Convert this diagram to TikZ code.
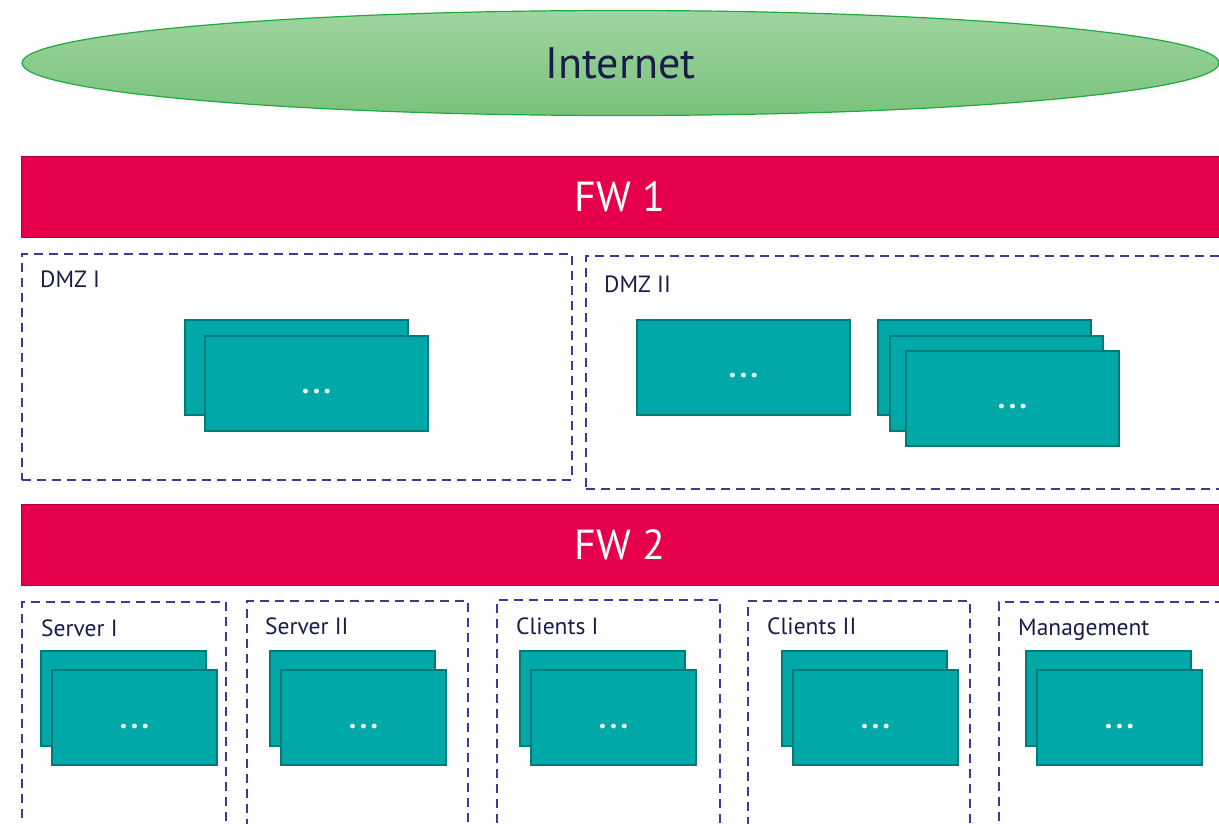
\documentclass[tikz,border=0pt]{standalone}
\usepackage{fontspec}
\setmainfont{PT Sans}
\usetikzlibrary{shapes.geometric}
\definecolor{tealfill}{RGB}{0,168,168}
\definecolor{tealline}{RGB}{0,122,120}
\definecolor{fwred}{RGB}{230,0,76}
\definecolor{fwline}{RGB}{170,0,60}
\definecolor{gtop}{RGB}{158,213,160}
\definecolor{gbot}{RGB}{122,194,124}
\definecolor{gline}{RGB}{30,170,60}
\definecolor{zoneblue}{RGB}{58,58,152}
\definecolor{ink}{RGB}{27,27,72}
\newcommand{\mydots}{.\kern3.5pt.\kern3.5pt.}
\begin{document}
\begin{tikzpicture}[x=1pt,y=-1pt,
  zone/.style={draw=zoneblue, line width=2.2pt, dash pattern=on 9pt off 6pt, anchor=north west, inner sep=0pt, outer sep=0pt},
  srv/.style={fill=tealfill, draw=tealline, line width=1.8pt, anchor=north west, inner sep=0pt, outer sep=0pt},
  fwbar/.style={fill=fwred, draw=fwline, line width=0.8pt, anchor=north west, inner sep=0pt, outer sep=0pt, minimum width=1198pt, minimum height=81pt, text=white, font=\fontsize{42}{50}\selectfont},
  lbl/.style={anchor=base west, text=ink, font=\fontsize{23.5}{28}\selectfont, inner sep=0pt},
  dotlbl/.style={text=white, font=\fontsize{30}{36}\selectfont\bfseries, inner sep=0pt},
  bigsrv/.style={srv, minimum width=223pt, minimum height=95pt},
  midsrv/.style={srv, minimum width=213pt, minimum height=95pt},
  smallsrv/.style={srv, minimum width=165pt, minimum height=95pt},
]
\useasboundingbox (0,0) rectangle (1219,824);
\clip (0,0) rectangle (1219,824);

% Internet
\node[ellipse, shading=axis, top color=gtop, bottom color=gbot, draw=gline, line width=1.2pt,
      minimum width=1197pt, minimum height=105pt, inner sep=0pt, text=ink,
      font=\fontsize{44}{52}\selectfont] (inet) at (620.5,63) {Internet};

% Firewalls
\node[fwbar] (fw1) at (21,156) {FW 1};
\node[fwbar] (fw2) at (21,504) {FW 2};

% DMZ zones
\node[zone, minimum width=550pt, minimum height=226pt] (dmz1) at (22,254) {};
\node[lbl] (dmz1l) at (40,287) {DMZ I};
\node[zone, minimum width=650pt, minimum height=233pt] (dmz2) at (586,256) {};
\node[lbl] (dmz2l) at (604,292) {DMZ II};

% DMZ I servers
\node[bigsrv] (d1a) at (185,320) {};
\node[bigsrv] (d1b) at (205,336) {};
\node[dotlbl] (d1t) at ([yshift=-8pt]d1b.center) {\mydots};

% DMZ II servers
\node[midsrv] (d2s) at (637,320) {};
\node[dotlbl] (d2st) at ([yshift=-8pt]d2s.center) {\mydots};
\node[midsrv] (d2a) at (878,320) {};
\node[midsrv] (d2b) at (890,336) {};
\node[midsrv] (d2c) at (906,351) {};
\node[dotlbl] (d2t) at ([yshift=-8pt]d2c.center) {\mydots};

% Internal zones
\node[zone, minimum width=204pt, minimum height=240pt] (z1) at (22,602) {};
\node[lbl] (z1l) at (41,636) {Server I};
\node[smallsrv] (z1a) at (41,651) {};
\node[smallsrv] (z1b) at (52,670) {};
\node[dotlbl] (z1t) at ([yshift=-9pt]z1b.center) {\mydots};

\node[zone, minimum width=221pt, minimum height=240pt] (z2) at (247,601) {};
\node[lbl] (z2l) at (265,634) {Server II};
\node[smallsrv] (z2a) at (270,651) {};
\node[smallsrv] (z2b) at (281,670) {};
\node[dotlbl] (z2t) at ([yshift=-9pt]z2b.center) {\mydots};

\node[zone, minimum width=223pt, minimum height=240pt] (z3) at (497,600) {};
\node[lbl] (z3l) at (516,634) {Clients I};
\node[smallsrv] (z3a) at (520,651) {};
\node[smallsrv] (z3b) at (531,670) {};
\node[dotlbl] (z3t) at ([yshift=-9pt]z3b.center) {\mydots};

\node[zone, minimum width=222pt, minimum height=240pt] (z4) at (748,601) {};
\node[lbl] (z4l) at (767,634) {Clients II};
\node[smallsrv] (z4a) at (782,651) {};
\node[smallsrv] (z4b) at (793,670) {};
\node[dotlbl] (z4t) at ([yshift=-9pt]z4b.center) {\mydots};

\node[zone, minimum width=240pt, minimum height=240pt] (z5) at (999,602) {};
\node[lbl] (z5l) at (1018,635) {Management};
\node[smallsrv] (z5a) at (1026,651) {};
\node[smallsrv] (z5b) at (1037,670) {};
\node[dotlbl] (z5t) at ([yshift=-9pt]z5b.center) {\mydots};
\end{tikzpicture}
\end{document}
